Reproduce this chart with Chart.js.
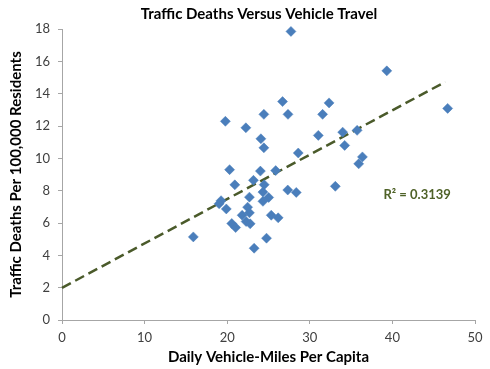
<!DOCTYPE html>
<html>
<head>
<meta charset="utf-8">
<script src="https://cdn.jsdelivr.net/npm/chart.js@4"></script>
<style>
html,body{margin:0;padding:0;background:#fff;}
#wrap{width:490px;height:369px;position:relative;}
</style>
</head>
<body>
<div id="wrap"><canvas id="c" width="490" height="369"></canvas></div>
<script>
const chartTitle = "Traffic Deaths Versus Vehicle Travel";
const xAxisTitle = "Daily Vehicle-Miles Per Capita";
const yAxisTitle = "Traffic Deaths Per 100,000 Residents";
const r2Label = "R\u00B2 = 0.3139";

const milesPerCapita = [27.72,26.70,32.33,19.78,24.44,27.36,31.55,22.26,24.08,24.44,
  31.03,28.60,20.29,24.02,25.87,39.32,46.69,33.98,35.73,34.22,
  36.37,35.92,33.09,20.92,23.18,24.48,24.33,27.33,28.36,22.69,
  25.02,19.26,19.02,24.33,19.89,22.47,21.81,22.69,25.33,26.17,
  22.29,20.55,22.78,21.02,15.90,24.76,23.26];
const deathsPer100k = [17.85,13.51,13.43,12.29,12.72,12.72,12.72,11.89,11.21,10.65,
  11.42,10.33,9.30,9.21,9.24,15.41,13.09,11.62,11.73,10.80,
  10.09,9.66,8.27,8.36,8.64,8.37,7.91,8.04,7.89,7.60,
  7.58,7.38,7.19,7.34,6.87,6.98,6.48,6.63,6.48,6.32,
  6.09,5.97,5.95,5.72,5.14,5.06,4.44];

const trendX = [0, 46.4];
const trendY = [1.99, 14.73];

const xTicks = [0,10,20,30,40,50];
const yTicks = [0,2,4,6,8,10,12,14,16,18];

const FONT = "Lato, 'Open Sans', sans-serif";

const points = milesPerCapita.map((x,i)=>({x:x, y:deathsPer100k[i]}));
const trend = trendX.map((x,i)=>({x:x, y:trendY[i]}));

const textPlugin = {
  id: 'textPlugin',
  afterDraw(chart){
    const ctx = chart.ctx;
    ctx.save();
    ctx.fillStyle = '#000';
    ctx.font = "bold 15px " + FONT;
    ctx.textAlign = 'center';
    ctx.textBaseline = 'middle';
    ctx.fillText(chartTitle, 259, 14);
    const xs = chart.scales.x, ys = chart.scales.y;
    ctx.fillStyle = '#4F6228';
    ctx.font = "bold 13px " + FONT;
    ctx.fillText(r2Label, xs.getPixelForValue(43), ys.getPixelForValue(7.75));
    ctx.restore();
  }
};

new Chart(document.getElementById('c'), {
  type: 'scatter',
  data: {
    datasets: [
      {
        label: 'Trend',
        type: 'line',
        data: trend,
        borderColor: '#4a5a2a',
        borderWidth: 2.5,
        borderDash: [10,5],
        pointRadius: 0,
        fill: false,
        clip: false,
        order: 2
      },
      {
        label: 'States',
        data: points,
        pointStyle: 'rectRot',
        pointRadius: 5,
        pointBackgroundColor: '#4a7ebb',
        pointBorderColor: '#4a7ebb',
        pointBorderWidth: 0.5,
        clip: false,
        order: 1
      }
    ]
  },
  options: {
    responsive: false,
    animation: false,
    events: [],
    layout: { padding: { top: 29, right: 15, left: 0, bottom: 0 } },
    plugins: {
      legend: { display: false },
      tooltip: { enabled: false },
      title: { display: false }
    },
    scales: {
      x: {
        type: 'linear',
        min: 0, max: 50,
        afterFit(s){ s.height = 49; },
        afterBuildTicks(s){ s.ticks = xTicks.map(v=>({value:v})); },
        grid: { drawOnChartArea: false, drawTicks: true, tickLength: 4, color: '#a6a6a6' },
        border: { color: '#a6a6a6', width: 1 },
        ticks: { color: '#404040', font: { family: FONT, size: 13 }, padding: 6 },
        title: { display: true, text: xAxisTitle, color: '#000',
          font: { family: FONT, size: 15, weight: 'bold' }, padding: { top: 0, bottom: 3 } }
      },
      y: {
        type: 'linear',
        min: 0, max: 18,
        afterFit(s){ s.width = 62; },
        afterBuildTicks(s){ s.ticks = yTicks.map(v=>({value:v})); },
        grid: { drawOnChartArea: false, drawTicks: true, tickLength: 4, color: '#a6a6a6' },
        border: { color: '#a6a6a6', width: 1 },
        ticks: { color: '#404040', font: { family: FONT, size: 13 }, padding: 8 },
        title: { display: true, text: yAxisTitle, color: '#000',
          font: { family: FONT, size: 15, weight: 'bold' }, padding: { top: 7, bottom: 0 } }
      }
    }
  },
  plugins: [textPlugin]
});
</script>
</body>
</html>
